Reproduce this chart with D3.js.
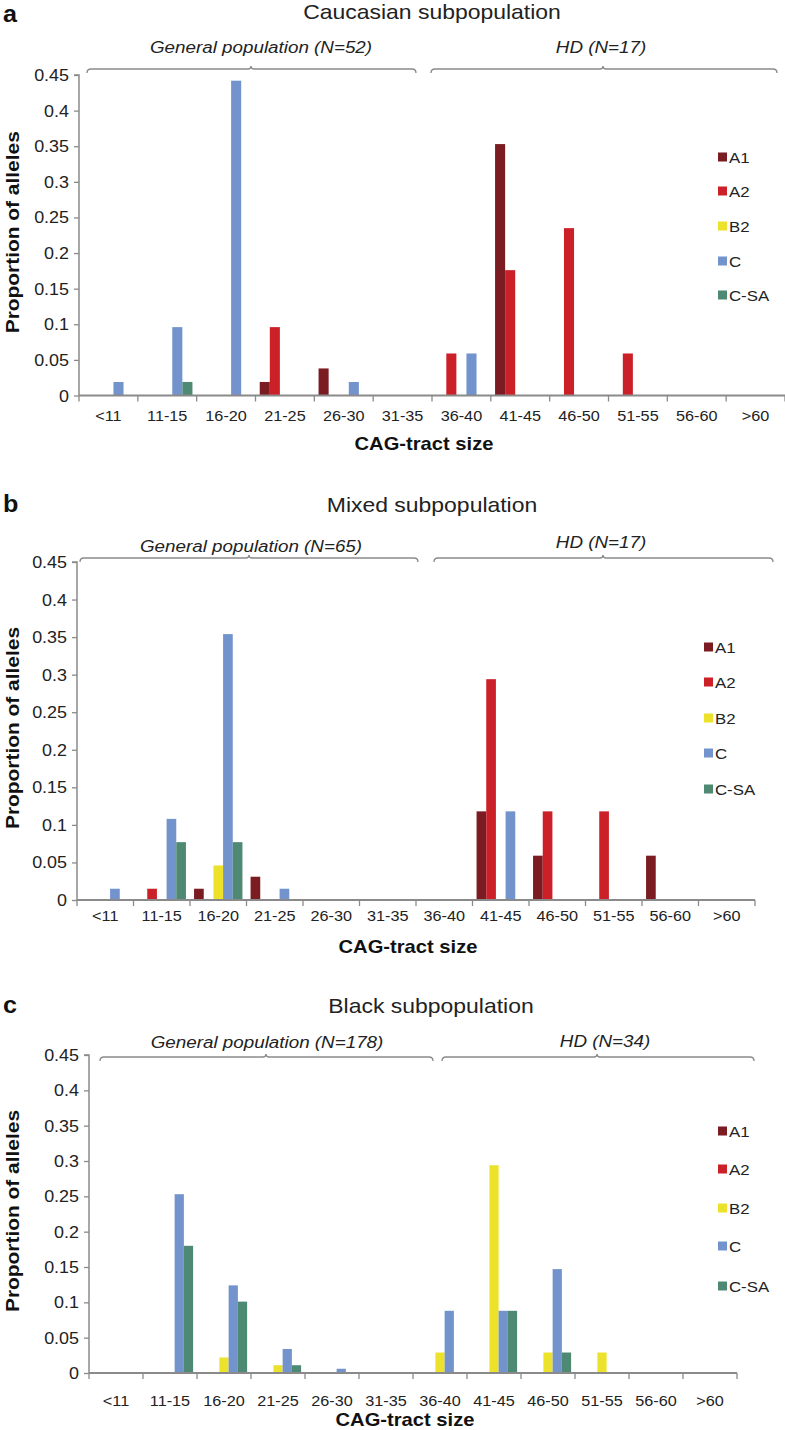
<!DOCTYPE html>
<html><head><meta charset="utf-8">
<script src="https://cdn.jsdelivr.net/npm/d3@7"></script>
<style>
body{margin:0;background:#fff;}
svg{display:block;font-family:Arial,"Liberation Sans",sans-serif;}
</style></head>
<body>
<svg id="chart" width="785" height="1430"></svg>
<script>
// ---------- data ----------
const categories = ["<11","11-15","16-20","21-25","26-30","31-35","36-40","41-45","46-50","51-55","56-60",">60"];
const seriesKeys = ["A1","A2","B2","C","C-SA"];
const yTickValues = [0,0.05,0.1,0.15,0.2,0.25,0.3,0.35,0.4,0.45];
const yTickLabels = ["0","0.05","0.1","0.15","0.2","0.25","0.3","0.35","0.4","0.45"];

const caucasianA1  = [0,0,0,0.019,0.038,0,0,0.353,0,0,0,0];
const caucasianA2  = [0,0,0,0.096,0,0,0.059,0.176,0.235,0.059,0,0];
const caucasianB2  = [0,0,0,0,0,0,0,0,0,0,0,0];
const caucasianC   = [0.019,0.096,0.442,0,0.019,0,0.059,0,0,0,0,0];
const caucasianCSA = [0,0.019,0,0,0,0,0,0,0,0,0,0];

const mixedA1  = [0,0,0.015,0.031,0,0,0,0.118,0.059,0,0.059,0];
const mixedA2  = [0,0.015,0,0,0,0,0,0.294,0.118,0.118,0,0];
const mixedB2  = [0,0,0.046,0,0,0,0,0,0,0,0,0];
const mixedC   = [0.015,0.108,0.354,0.015,0,0,0,0.118,0,0,0,0];
const mixedCSA = [0,0.077,0.077,0,0,0,0,0,0,0,0,0];

const blackA1  = [0,0,0,0,0,0,0,0,0,0,0,0];
const blackA2  = [0,0,0,0,0,0,0,0,0,0,0,0];
const blackB2  = [0,0,0.022,0.011,0,0,0.029,0.294,0.029,0.029,0,0];
const blackC   = [0,0.253,0.124,0.034,0.006,0,0.088,0.088,0.147,0,0,0];
const blackCSA = [0,0.180,0.101,0.011,0,0,0,0.088,0.029,0,0,0];

const panelLetters = ["a","b","c"];
const panelTitles = ["Caucasian subpopulation","Mixed subpopulation","Black subpopulation"];
const generalLabels = ["General population (N=52)","General population (N=65)","General population (N=178)"];
const hdLabels = ["HD (N=17)","HD (N=17)","HD (N=34)"];

// ---------- styles / layout ----------
const colors = {"A1":"#7b1c22","A2":"#cc2029","B2":"#ece22c","C":"#7293cc","C-SA":"#4e8a73"};
const axisColor = "#8a8a8a";
const SX = 1.12; // horizontal stretch of the reference lettering

const layouts = [
  {x0:79,x1:785,yTop:75,yZero:395.5,letterY:21.5,titleY:19,titleX:432,
   genY:53,hdY:53,genX:261,hdX:601,braceY:69,
   genBrace:[87,416,251],hdBrace:[431,777,603],
   tickLabY:421,xLabY:449.5,legX:718,legY:[157,191,226,261,295]},
  {x0:77,x1:755,yTop:562,yZero:900,letterY:512,titleY:512,titleX:432,
   genY:552,hdY:548,genX:251,hdX:601,braceY:558,
   genBrace:[80,418,249],hdBrace:[434,773,603],
   tickLabY:921,xLabY:953,legX:704,legY:[647,682,718,753,789]},
  {x0:89,x1:737,yTop:1055,yZero:1373,letterY:1013,titleY:1013,titleX:431,
   genY:1048,hdY:1047,genX:267,hdX:605,braceY:1057,
   genBrace:[100,433,266],hdBrace:[442,754,597],
   tickLabY:1406,xLabY:1426,legX:718,legY:[1131,1169,1208,1246,1286]}
];

const panelData = [
  [caucasianA1,caucasianA2,caucasianB2,caucasianC,caucasianCSA],
  [mixedA1,mixedA2,mixedB2,mixedC,mixedCSA],
  [blackA1,blackA2,blackB2,blackC,blackCSA]
];

const svg = d3.select("#chart");

function txt(g, x, y, str, o){
  o = o || {};
  const rot = o.rotate ? ` rotate(${o.rotate})` : "";
  return g.append("text")
    .attr("transform", `translate(${x},${y})${rot} scale(${o.sx || SX},1)`)
    .attr("text-anchor", o.anchor || "start")
    .attr("font-size", o.size || 16)
    .attr("font-weight", o.weight || "normal")
    .attr("font-style", o.style || "normal")
    .attr("fill", o.fill || "#222")
    .text(str);
}

function bracePath(xa, xb, xc, y){
  const r = 4;
  return `M${xa},${y+r} Q${xa},${y} ${xa+r},${y} L${xc-3},${y} Q${xc},${y} ${xc},${y-3} Q${xc},${y} ${xc+3},${y} L${xb-r},${y} Q${xb},${y} ${xb},${y+r}`;
}

panelData.forEach((seriesArrays, p) => {
  const L = layouts[p];
  const g = svg.append("g");

  const x = d3.scaleBand().domain(categories).range([L.x0, L.x1]).paddingInner(0).paddingOuter(0);
  const xs = d3.scaleBand().domain(seriesKeys).range([0, x.bandwidth()]).paddingInner(0).paddingOuter(0.42);
  const y = d3.scaleLinear().domain([0,0.45]).range([L.yZero, L.yTop]);

  // panel letter & title
  txt(g, 3, L.letterY, panelLetters[p], {size:24, weight:"bold", fill:"#111", sx:1.05});
  txt(g, L.titleX, L.titleY, panelTitles[p], {size:20.5, anchor:"middle", fill:"#222"});

  // group labels and braces
  txt(g, L.genX, L.genY, generalLabels[p], {size:16.8, anchor:"middle", style:"italic"});
  txt(g, L.hdX, L.hdY, hdLabels[p], {size:16.8, anchor:"middle", style:"italic"});
  g.append("path").attr("d",bracePath(L.genBrace[0],L.genBrace[1],L.genBrace[2],L.braceY)).attr("fill","none").attr("stroke",axisColor).attr("stroke-width",1.3);
  g.append("path").attr("d",bracePath(L.hdBrace[0],L.hdBrace[1],L.hdBrace[2],L.braceY)).attr("fill","none").attr("stroke",axisColor).attr("stroke-width",1.3);

  // bars
  seriesKeys.forEach((key, si) => {
    const vals = seriesArrays[si];
    g.append("g").selectAll("rect")
      .data(categories.map((c,i)=>({c, v: vals[i]})).filter(d=>d.v>0))
      .join("rect")
      .attr("x", d => x(d.c) + xs(key))
      .attr("width", xs.bandwidth())
      .attr("y", d => y(d.v))
      .attr("height", d => y(0) - y(d.v))
      .attr("fill", colors[key]);
  });

  // y axis
  const yAxis = d3.axisLeft(y).tickValues(yTickValues).tickFormat((d,i)=>yTickLabels[i]).tickSize(5).tickPadding(5);
  const ya = g.append("g").attr("transform",`translate(${L.x0},0)`).call(yAxis);
  ya.select(".domain").attr("stroke",axisColor).attr("stroke-width",1.5).attr("d",`M-5,${L.yTop}H0V${L.yZero}`);
  ya.selectAll(".tick line").attr("stroke",axisColor).attr("stroke-width",1.3);
  ya.selectAll(".tick text").remove();
  ya.selectAll(".tick").each(function(d, i){
    txt(d3.select(this), -10, 5.5, yTickLabels[i], {size:16, anchor:"end"});
  });

  // x axis: ticks at category boundaries
  const boundaries = categories.map(c => x(c)).concat([L.x1]);
  g.append("g").selectAll("line").data(boundaries).join("line")
    .attr("x1", d=>d).attr("x2", d=>d).attr("y1", L.yZero).attr("y2", L.yZero+6)
    .attr("stroke", axisColor).attr("stroke-width",1.3);
  g.append("line").attr("x1",L.x0).attr("x2",L.x1).attr("y1",L.yZero).attr("y2",L.yZero).attr("stroke",axisColor).attr("stroke-width",2.2);
  const xl = g.append("g");
  categories.forEach(c => txt(xl, x(c) + x.bandwidth()/2, L.tickLabY, c, {size:14.5, anchor:"middle"}));

  // axis titles
  txt(g, (L.x0+L.x1)/2 - 8, L.xLabY, "CAG-tract size", {size:18, weight:"bold", anchor:"middle", fill:"#111"});
  const ymid = (L.yTop+L.yZero)/2 - 3;
  txt(g, 19, ymid, "Proportion of alleles", {size:19, weight:"bold", anchor:"middle", fill:"#111", rotate:-90, sx:1.1});

  // legend
  seriesKeys.forEach((key, si) => {
    g.append("rect").attr("x",L.legX).attr("y",L.legY[si]-4.5).attr("width",9).attr("height",9).attr("fill",colors[key]);
    txt(g, L.legX+11, L.legY[si]+5.5, key, {size:15});
  });
});
</script>
</body></html>
